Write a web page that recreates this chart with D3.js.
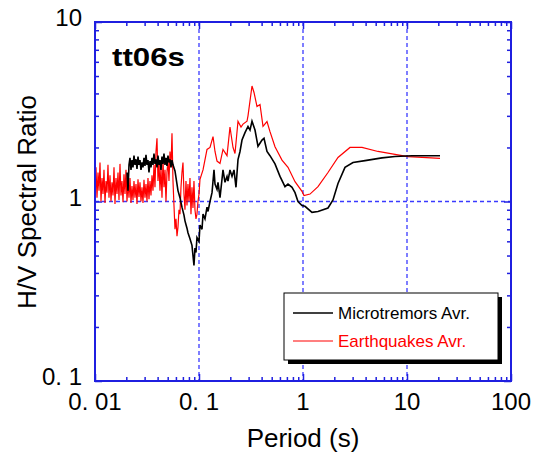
<!DOCTYPE html>
<html>
<head>
<meta charset="utf-8">
<script src="https://cdn.jsdelivr.net/npm/d3@7"></script>
<style>
  body { margin: 0; background: #fff; }
  text { font-family: Arial, "Liberation Sans", sans-serif; }
</style>
</head>
<body>
<div class="chart"></div>
<script>
// Chart data.
// Microtremors average: period (s) and H/V ratio.
var mtPeriod = [
  0.02031, 0.02076, 0.02123, 0.02170, 0.02219, 0.02268, 0.02319, 0.02371, 0.02424, 0.02478,
  0.02534, 0.02591, 0.02649, 0.02708, 0.02768, 0.02830, 0.02894, 0.02958, 0.03025, 0.03092,
  0.03161, 0.03232, 0.03305, 0.03379, 0.03454, 0.03532, 0.03611, 0.03692, 0.03774, 0.03859,
  0.03945, 0.04033, 0.04124, 0.04216, 0.04310, 0.04407, 0.04505, 0.04606, 0.04709, 0.04815,
  0.04922, 0.05033, 0.05145, 0.05261, 0.05378, 0.05499, 0.05622, 0.05876, 0.06142, 0.06279,
  0.06563, 0.06860, 0.07171, 0.07331, 0.07663, 0.07834, 0.08189, 0.08559, 0.08751, 0.08946,
  0.09147, 0.09351, 0.09560, 0.1000, 0.1022, 0.1069, 0.1093, 0.1142, 0.1194, 0.1221,
  0.1276, 0.1334, 0.1394, 0.1425, 0.1490, 0.1523, 0.1592, 0.1664, 0.1701, 0.1778,
  0.1859, 0.1900, 0.1986, 0.2077, 0.2170, 0.2268, 0.2371, 0.2479, 0.2591, 0.2769,
  0.2959, 0.3093, 0.3233, 0.3455, 0.3692, 0.4034, 0.4217, 0.4506, 0.4815, 0.5379,
  0.6009, 0.6711, 0.7175, 0.784, 0.838, 0.895, 0.978, 1.045, 1.220, 1.394,
  1.739, 1.943, 2.170, 2.534, 3.025, 3.947, 5.748, 7.663, 11.17, 20.76
];
var mtRatio = [
  1.45, 1.15, 1.60, 1.75, 1.50, 1.70, 1.55, 1.80, 1.60, 1.72,
  1.52, 1.78, 1.60, 1.70, 1.50, 1.65, 1.55, 1.75, 1.58, 1.82,
  1.60, 1.70, 1.45, 1.68, 1.55, 1.75, 1.60, 1.85, 1.62, 1.72,
  1.55, 1.80, 1.60, 1.70, 1.50, 1.78, 1.62, 1.85, 1.60, 1.75,
  1.58, 1.80, 1.65, 1.72, 1.55, 1.70, 1.60, 1.48, 1.25, 1.15,
  1.05, 0.93, 0.84, 0.78, 0.71, 0.67, 0.62, 0.57, 0.50, 0.44,
  0.55, 0.52, 0.63, 0.60, 0.74, 0.70, 0.85, 0.80, 0.93, 0.88,
  1.00, 1.12, 1.50, 1.25, 1.17, 1.28, 1.05, 1.33, 1.50, 1.28,
  1.38, 1.30, 1.50, 1.38, 1.50, 1.20, 1.71, 1.90, 2.20, 2.42,
  2.62, 2.50, 2.80, 2.50, 2.03, 2.20, 2.25, 1.90, 1.80, 1.62,
  1.38, 1.21, 1.25, 1.20, 1.12, 1.00, 0.95, 0.94, 0.87, 0.88,
  0.92, 1.02, 1.26, 1.55, 1.65, 1.69, 1.75, 1.78, 1.80, 1.80
];

// Earthquakes average: period (s) and H/V ratio.
var eqPeriod = [
  0.01000, 0.01022, 0.01045, 0.01069, 0.01093, 0.01117, 0.01142, 0.01168, 0.01194, 0.01220,
  0.01248, 0.01276, 0.01304, 0.01333, 0.01363, 0.01394, 0.01425, 0.01457, 0.01490, 0.01523,
  0.01557, 0.01592, 0.01628, 0.01664, 0.01701, 0.01739, 0.01778, 0.01818, 0.01859, 0.01900,
  0.01943, 0.01986, 0.02031, 0.02076, 0.02123, 0.02170, 0.02219, 0.02268, 0.02319, 0.02371,
  0.02424, 0.02478, 0.02534, 0.02591, 0.02649, 0.02708, 0.02768, 0.02830, 0.02894, 0.02958,
  0.03025, 0.03092, 0.03161, 0.03232, 0.03305, 0.03379, 0.03454, 0.03532, 0.03611, 0.03692,
  0.03774, 0.03859, 0.03945, 0.04033, 0.04124, 0.04216, 0.04310, 0.04407, 0.04505, 0.04606,
  0.04709, 0.04815, 0.04922, 0.05033, 0.05145, 0.05261, 0.05378, 0.05499, 0.05622, 0.05747,
  0.05876, 0.06007, 0.06142, 0.06279, 0.06420, 0.06563, 0.06710, 0.06860, 0.07014, 0.07171,
  0.07331, 0.07495, 0.07663, 0.07834, 0.08010, 0.08189, 0.08372, 0.08559, 0.08751, 0.08946,
  0.09147, 0.09351, 0.09560, 0.09774, 0.1000, 0.1022, 0.1093, 0.1194, 0.1276, 0.1364,
  0.1425, 0.1490, 0.1592, 0.1701, 0.1859, 0.1986, 0.2123, 0.2219, 0.2371, 0.2534,
  0.2649, 0.2894, 0.2959, 0.3233, 0.3380, 0.3612, 0.3860, 0.4125, 0.4506, 0.4815,
  0.5379, 0.6280, 0.7175, 0.838, 0.978, 1.022, 1.168, 1.394, 1.739, 2.170,
  2.830, 3.692, 5.262, 7.663, 10.22, 13.94, 20.76
];
var eqRatio = [
  1.25, 1.55, 1.05, 1.45, 1.15, 1.65, 1.00, 1.35, 1.10, 1.50,
  0.98, 1.30, 1.12, 1.60, 1.05, 1.40, 1.00, 1.28, 1.08, 1.55,
  0.97, 1.35, 1.10, 1.45, 1.02, 1.62, 1.08, 1.30, 0.99, 1.42,
  1.10, 1.50, 1.00, 1.30, 1.05, 1.35, 0.98, 1.22, 1.02, 1.30,
  1.05, 1.25, 0.97, 1.33, 1.06, 1.28, 1.00, 1.20, 0.98, 1.32,
  1.05, 1.25, 1.00, 1.35, 1.03, 1.30, 1.08, 1.40, 1.15, 1.60,
  1.20, 1.90, 2.25, 1.30, 1.65, 1.15, 1.55, 1.05, 1.70, 1.20,
  1.50, 1.00, 1.45, 1.70, 1.30, 1.90, 1.55, 2.40, 1.30, 0.95,
  0.70, 0.80, 0.64, 0.72, 0.90, 0.85, 1.20, 1.45, 1.65, 1.10,
  0.90, 1.30, 0.95, 1.25, 1.00, 1.35, 0.85, 1.20, 0.92, 1.30,
  0.90, 0.80, 0.85, 1.00, 1.10, 1.33, 1.50, 1.95, 2.00, 2.30,
  1.90, 1.68, 1.63, 1.95, 1.80, 2.60, 2.00, 1.85, 2.80, 2.60,
  2.70, 2.80, 3.00, 4.40, 4.05, 3.38, 3.47, 2.62, 2.79, 2.45,
  2.02, 1.70, 1.55, 1.29, 1.14, 1.08, 1.10, 1.21, 1.45, 1.76,
  2.00, 2.00, 1.90, 1.83, 1.78, 1.76, 1.74
];

// Axis ticks and labels.
var xTickValues = [0.01, 0.1, 1, 10, 100];
var xTickLabels = ["0. 01", "0. 1", "1", "10", "100"];
var yTickValues = [0.1, 1, 10];
var yTickLabels = ["0. 1", "1", "10"];
var xGrid = [0.1, 1, 10];
var yGrid = [1];

var seriesNames = ["Microtremors Avr.", "Earthquakes Avr."];
var seriesColors = ["#000000", "#ff0000"];

// SVG dimensions and plot frame.
var w = 534,
    h = 459;
var plotLeft = 95, plotRight = 511, plotTop = 22, plotBottom = 381;
var blue = "#1f1fe0";

var svg = d3.select(".chart").append("svg")
  .attr("width", w)
  .attr("height", h);

var xScale = d3.scaleLog()
  .domain([0.01, 100])
  .range([plotLeft, plotRight]);

var yScale = d3.scaleLog()
  .domain([0.1, 10])
  .range([plotBottom, plotTop]);

// Dashed grid lines.
svg.selectAll("line.gridX")
  .data(xGrid)
  .enter()
  .append("line")
  .attr("class", "gridX")
  .attr("x1", function(d) { return xScale(d); })
  .attr("x2", function(d) { return xScale(d); })
  .attr("y1", plotTop)
  .attr("y2", plotBottom)
  .attr("stroke", "#3a3aff")
  .attr("stroke-width", 1.3)
  .attr("stroke-dasharray", "4,3");

svg.selectAll("line.gridY")
  .data(yGrid)
  .enter()
  .append("line")
  .attr("class", "gridY")
  .attr("x1", plotLeft)
  .attr("x2", plotRight)
  .attr("y1", function(d) { return yScale(d); })
  .attr("y2", function(d) { return yScale(d); })
  .attr("stroke", "#3a3aff")
  .attr("stroke-width", 1.6)
  .attr("stroke-dasharray", "4,3");

// Inward ticks on all four sides.
function styleAxis(g) {
  g.select(".domain").remove();
  g.selectAll(".tick line").attr("stroke", blue).attr("stroke-width", 1.5);
  g.selectAll(".tick text").remove();
}

function tickLen(d) {
  return Math.abs(Math.log10(d) - Math.round(Math.log10(d))) < 1e-6 ? 7 : 4;
}

var xMinor = xScale.ticks();
var yMinor = yScale.ticks();

[["bottom", plotBottom, -1], ["top", plotTop, 1]].forEach(function(s) {
  var g = svg.append("g").attr("transform", "translate(0," + s[1] + ")");
  var axis = s[0] === "bottom" ? d3.axisBottom(xScale) : d3.axisTop(xScale);
  g.call(axis.tickValues(xMinor).tickSize(0));
  styleAxis(g);
  g.selectAll(".tick line").attr("y2", function(d) { return s[2] * tickLen(d); });
});

[["left", plotLeft, 1], ["right", plotRight, -1]].forEach(function(s) {
  var g = svg.append("g").attr("transform", "translate(" + s[1] + ",0)");
  var axis = s[0] === "left" ? d3.axisLeft(yScale) : d3.axisRight(yScale);
  g.call(axis.tickValues(yMinor).tickSize(0));
  styleAxis(g);
  g.selectAll(".tick line").attr("x2", function(d) { return s[2] * tickLen(d); });
});

// Curves.
var line = d3.line()
  .x(function(d) { return xScale(d[0]); })
  .y(function(d) { return yScale(d[1]); });

svg.append("path")
  .datum(d3.zip(eqPeriod, eqRatio))
  .attr("d", line)
  .attr("fill", "none")
  .attr("stroke", seriesColors[1])
  .attr("stroke-width", 1.2);

svg.append("path")
  .datum(d3.zip(mtPeriod, mtRatio))
  .attr("d", line)
  .attr("fill", "none")
  .attr("stroke", seriesColors[0])
  .attr("stroke-width", 1.6);

// Plot frame.
svg.append("rect")
  .attr("x", plotLeft)
  .attr("y", plotTop)
  .attr("width", plotRight - plotLeft)
  .attr("height", plotBottom - plotTop)
  .attr("fill", "none")
  .attr("stroke", blue)
  .attr("stroke-width", 2);

// Tick labels.
svg.selectAll("text.xLabel")
  .data(xTickValues)
  .enter()
  .append("text")
  .attr("class", "xLabel")
  .attr("x", function(d) { return xScale(d); })
  .attr("y", 410)
  .style("text-anchor", "middle")
  .style("font-size", "24px")
  .text(function(d, i) { return xTickLabels[i]; });

svg.selectAll("text.yLabel")
  .data(yTickValues)
  .enter()
  .append("text")
  .attr("class", "yLabel")
  .attr("x", 82)
  .attr("y", function(d) { return yScale(d) + 4; })
  .style("text-anchor", "end")
  .style("font-size", "24px")
  .text(function(d, i) { return yTickLabels[i]; });

// Axis titles and site name.
svg.append("text")
  .attr("x", 303)
  .attr("y", 447)
  .style("text-anchor", "middle")
  .style("font-size", "26px")
  .text("Period (s)");

svg.append("text")
  .attr("transform", "translate(36," + 202 + ") rotate(-90)")
  .style("text-anchor", "middle")
  .style("font-size", "26px")
  .text("H/V Spectral Ratio");

svg.append("text")
  .attr("x", 112)
  .attr("y", 66)
  .attr("textLength", 73)
  .attr("lengthAdjust", "spacingAndGlyphs")
  .style("font-size", "26px")
  .style("font-weight", "bold")
  .text("tt06s");

// Legend with drop shadow.
var legend = svg.append("g").attr("transform", "translate(284,293)");

legend.append("rect")
  .attr("x", 4)
  .attr("y", 4)
  .attr("width", 214)
  .attr("height", 67)
  .attr("fill", "#000");

legend.append("rect")
  .attr("width", 214)
  .attr("height", 67)
  .attr("fill", "#fff")
  .attr("stroke", "#000")
  .attr("stroke-width", 1);

seriesNames.forEach(function(name, i) {
  var yy = 20 + i * 28;
  legend.append("line")
    .attr("x1", 9)
    .attr("x2", 49)
    .attr("y1", yy)
    .attr("y2", yy)
    .attr("stroke", seriesColors[i])
    .attr("stroke-width", i === 0 ? 1.3 : 1.1);
  legend.append("text")
    .attr("x", 54)
    .attr("y", yy + 6)
    .style("font-size", "17px")
    .attr("fill", seriesColors[i])
    .text(name);
});
</script>
</body>
</html>
